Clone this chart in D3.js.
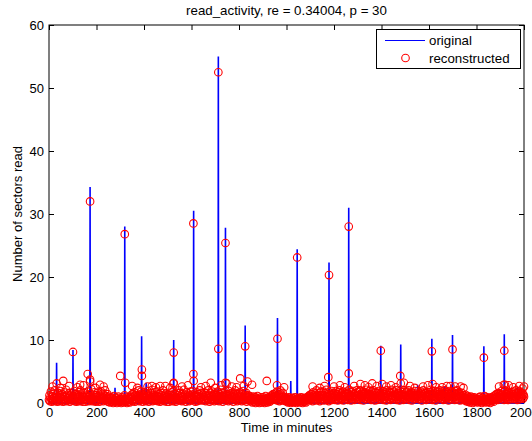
<!DOCTYPE html>
<html>
<head>
<meta charset="utf-8">
<script src="https://cdn.jsdelivr.net/npm/d3@7"></script>
<style>
  html, body { margin: 0; padding: 0; background: #fff; }
  svg { display: block; }
  text { font-family: "Liberation Sans", Arial, Helvetica, sans-serif; fill: #000; }
</style>
</head>
<body>
<div id="chart"></div>
<script>
// ---------------- DATA ----------------
const titleText = "read_activity, re = 0.34004, p = 30";
const xLabelText = "Time in minutes";
const yLabelText = "Number of sectors read";
const legendLabels = ["original", "reconstructed"];

const xTickLabels = [0, 200, 400, 600, 800, 1000, 1200, 1400, 1600, 1800, 2000];
const yTickLabels = [0, 10, 20, 30, 40, 50, 60];

// original signal: spikes (minute, value); the signal is ~0 elsewhere
const spikeMinute   = [32, 101, 173, 278, 319, 390, 409, 525, 609, 713, 743, 826, 962, 1018, 1045, 1179, 1262, 1354, 1397, 1481, 1552, 1612, 1667, 1699, 1831, 1917, 1973];
const spikeOriginal = [6.4, 8.4, 34.3, 2.4, 28.0, 10.6, 3.2, 10.0, 30.5, 55.0, 27.8, 12.3, 13.5, 3.5, 24.4, 22.3, 31.0, 2.1, 9.1, 9.3, 2.9, 10.2, 2.6, 10.8, 9.0, 10.9, 2.4];

// reconstructed: dense low-level values every 2 minutes (0, 2, ..., 2000), one row = 50 minutes
const reconBaseStep = 2;
const reconBase = [
  0.5,1.2,0.3,0.9,1.8,0.6,0.2,1.1,0.7,1.5,0.4,0.9,2.0,0.3,0.8,1.3,0.5,1.0,0.2,1.6,0.7,0.4,1.2,0.9,1.9,
  0.3,0.8,1.4,0.5,1.0,0.2,1.7,0.6,1.1,0.4,0.9,2.1,0.3,0.7,1.3,0.5,1.0,0.8,1.6,0.2,1.2,0.6,0.4,1.5,0.9,
  1.1,0.4,0.7,1.9,0.3,1.0,0.6,1.4,0.2,0.8,1.2,0.5,1.7,0.9,0.3,1.1,2.0,0.6,0.4,1.3,0.8,0.2,1.0,1.6,0.5,
  0.7,1.5,0.2,1.0,0.6,1.2,0.4,1.8,0.9,0.3,1.1,0.7,1.4,0.5,2.2,0.8,0.3,1.0,0.6,1.3,0.4,1.7,0.9,0.2,1.2,
  0.9,0.3,1.6,0.5,1.1,0.8,0.2,1.3,0.6,1.9,0.4,1.0,0.7,1.5,0.3,0.9,1.2,0.5,2.0,0.6,1.1,0.4,0.8,1.4,0.2,
  0.6,1.0,0.4,0.1,0.7,0.3,0.9,0.2,0.5,0.8,0.0,0.6,1.1,0.3,0.5,0.2,0.8,0.4,0.0,0.7,0.3,1.0,0.5,0.2,0.6,
  0.2,0.6,0.0,0.5,0.9,0.3,0.7,0.1,0.4,1.2,0.2,0.6,0.3,0.8,0.0,0.5,0.9,0.2,0.4,0.7,0.1,0.6,1.0,0.9,1.3,
  0.8,1.4,0.3,1.0,0.5,1.7,0.2,1.2,0.6,0.9,1.5,0.4,1.1,0.7,2.0,0.3,0.9,1.3,0.5,1.8,0.6,1.0,0.2,1.4,0.8,
  1.2,0.5,1.0,0.3,1.6,0.7,1.1,0.4,1.9,0.6,0.2,1.3,0.8,1.0,0.4,1.5,0.6,2.1,0.3,0.9,1.2,0.5,1.7,0.7,1.0,
  0.4,1.1,0.7,1.8,0.3,1.0,0.5,1.4,0.9,0.2,1.6,0.6,1.2,0.4,0.8,2.0,0.5,1.1,0.3,1.3,0.7,0.9,1.5,0.2,1.0,
  1.3,0.6,0.9,0.2,1.5,0.8,1.2,0.4,1.7,0.5,1.0,0.3,1.9,0.7,1.1,0.6,1.4,0.2,0.9,1.6,0.4,1.2,0.8,2.0,0.5,
  0.7,1.6,0.4,1.1,0.9,0.3,1.4,0.6,1.0,2.1,0.5,0.8,1.3,0.2,1.7,0.6,1.0,0.4,1.5,0.9,0.3,1.2,0.7,1.8,1.0,
  0.5,1.3,0.8,1.9,0.4,1.0,0.6,1.5,0.2,1.2,0.9,1.7,0.3,1.1,0.7,1.4,0.5,2.0,0.8,1.0,0.4,1.6,0.6,1.3,0.9,
  1.0,0.4,1.7,0.6,1.2,0.3,1.5,0.8,1.1,0.5,2.0,0.7,1.3,0.2,0.9,1.6,0.4,1.1,0.7,1.8,0.5,1.0,1.4,0.3,1.2,
  0.6,1.5,0.9,1.2,0.4,1.8,0.7,1.0,0.3,1.4,0.8,2.1,0.5,1.1,0.6,1.6,0.2,1.3,0.9,1.0,0.4,1.7,0.7,1.2,0.5,
  1.4,0.7,1.0,0.3,1.9,0.6,1.2,0.8,1.5,0.4,1.1,0.9,1.7,0.2,1.3,0.6,1.0,2.0,0.5,0.8,1.4,0.3,1.1,0.7,1.6,
  0.8,1.2,0.5,1.7,0.9,1.0,0.3,1.4,0.6,1.9,0.4,1.1,0.7,1.3,0.5,1.6,0.2,1.0,0.8,1.2,0.4,0.9,0.6,1.1,0.5,
  0.3,0.8,0.5,0.1,0.7,0.4,1.0,0.2,0.6,0.9,0.0,0.5,0.8,0.3,1.1,0.2,0.6,0.4,0.0,0.7,0.3,0.9,0.5,0.1,0.6,
  0.4,0.9,0.2,0.7,0.0,0.5,1.1,0.3,0.6,0.8,0.1,0.5,0.3,0.9,0.6,0.2,1.0,0.4,0.7,1.2,0.5,0.9,1.4,0.6,1.1,
  0.9,1.5,0.5,1.2,0.8,1.8,0.4,1.0,0.6,1.4,0.3,1.1,2.0,0.7,1.3,0.5,0.9,1.6,0.4,1.0,0.7,0.5,0.9,0.3,0.6,
  0.8,0.3,0.6,0.1,0.5,0.9,0.2,0.7,0.4,0.0,0.6,0.3,0.8,0.2,0.5,0.1,0.7,0.4,0.9,0.2,0.6,0.0,0.5,0.3,0.7,
  0.4,0.8,0.2,0.6,0.1,0.5,0.9,0.3,0.7,0.0,0.4,0.6,0.2,0.8,0.3,0.5,0.1,0.7,0.4,0.9,0.6,1.0,0.5,1.2,0.8,
  1.1,0.5,1.4,0.8,1.0,0.3,1.7,0.6,1.2,0.9,1.5,0.4,1.0,2.0,0.7,1.3,0.5,1.1,0.8,1.6,0.3,1.2,0.9,1.8,0.6,
  1.3,0.7,1.0,1.8,0.4,1.2,0.6,1.5,0.9,2.1,0.5,1.1,0.8,1.4,0.3,1.7,1.0,0.6,1.3,0.9,1.9,0.5,1.2,0.7,1.5,
  0.9,1.6,0.5,1.2,1.9,0.7,1.0,1.4,0.4,1.7,1.1,0.6,2.0,0.8,1.3,0.5,1.5,1.0,0.7,1.8,0.4,1.2,0.9,1.6,1.1,
  1.4,0.6,1.8,1.0,0.5,1.5,0.8,2.1,1.2,0.7,1.3,0.4,1.7,1.0,0.6,1.9,0.9,1.4,0.5,1.1,1.6,0.8,1.2,2.0,0.7,
  1.0,1.7,0.6,1.3,0.9,2.0,0.5,1.2,1.5,0.8,1.1,1.8,0.4,1.4,0.9,1.6,0.7,1.2,2.1,0.6,1.0,1.5,0.8,1.3,1.9,
  0.7,1.4,1.1,0.5,1.8,1.0,1.3,0.6,2.0,0.9,1.5,0.4,1.2,1.7,0.8,1.1,0.5,1.6,1.0,1.9,0.7,1.3,0.6,1.4,1.0,
  1.6,0.8,1.2,1.9,0.5,1.4,1.0,0.7,1.7,1.1,0.4,1.5,2.0,0.9,1.2,0.6,1.8,1.0,1.3,0.5,1.6,0.8,2.1,1.1,0.7,
  1.2,1.8,0.6,1.0,1.5,0.9,2.0,0.5,1.3,1.1,0.7,1.6,1.0,0.4,1.9,1.2,0.8,1.4,0.6,1.7,1.0,0.5,1.3,1.8,0.9,
  1.5,0.7,1.1,1.8,0.6,1.3,0.9,2.0,1.0,0.5,1.4,1.2,0.8,1.7,0.4,1.1,1.6,0.9,1.3,0.6,1.9,1.0,0.7,1.5,1.2,
  0.8,1.3,1.9,0.6,1.0,1.5,0.7,1.2,1.8,0.9,0.4,1.4,1.1,2.0,0.6,1.3,0.8,1.6,1.0,0.5,1.7,1.2,0.9,1.4,0.7,
  1.1,1.7,0.6,1.3,2.1,0.9,1.4,0.5,1.0,1.6,1.2,0.7,1.9,1.0,0.4,1.5,0.8,1.3,1.8,0.6,1.1,1.4,0.9,2.0,1.2,
  0.9,1.4,1.8,0.7,1.2,0.5,1.6,1.0,2.0,0.8,1.3,1.1,0.6,1.7,0.9,1.4,0.4,1.2,1.9,1.0,0.7,1.5,1.1,0.6,1.8,
  1.3,0.8,1.6,1.1,0.5,1.9,1.0,1.4,0.7,2.0,1.2,0.6,1.5,0.9,1.7,0.4,1.1,1.3,0.8,1.6,0.5,1.0,0.7,1.2,0.6,
  0.9,0.5,1.3,0.3,0.8,0.6,1.1,0.2,0.7,0.4,0.9,0.1,0.6,1.0,0.3,0.5,0.8,0.0,0.6,0.4,0.9,0.2,0.7,0.3,0.5,
  0.3,0.7,0.1,0.6,0.4,0.9,0.2,0.5,1.0,0.3,0.7,0.0,0.5,0.8,0.2,0.6,0.4,1.1,0.3,0.7,0.1,0.5,0.9,0.2,0.6,
  0.4,0.8,0.2,0.6,0.0,0.5,0.9,0.3,0.7,0.4,1.0,0.2,0.6,0.8,1.2,0.5,0.9,1.4,0.7,1.1,0.5,1.6,0.8,1.3,1.0,
  1.5,0.8,1.2,1.9,0.6,1.3,1.0,1.7,0.5,1.1,2.0,0.8,1.4,0.7,1.6,1.0,0.5,1.8,1.2,0.9,1.5,0.6,1.3,1.0,1.7,
  0.9,1.4,0.6,1.8,1.1,0.7,1.5,1.0,2.0,0.8,1.3,0.5,1.6,1.2,0.9,1.9,0.6,1.4,1.0,1.7,0.8,1.2,1.5,0.7,1.3,
  1.0
];

// reconstructed: individual higher values (minute, value)
const reconExtraMinute = [32, 60, 101, 131, 163, 173, 173, 173, 215, 300, 319, 321, 391, 391, 433, 468, 524, 525, 525, 608, 608, 609, 681, 713, 713, 743, 743, 748, 805, 826, 836, 855, 917, 962, 1045, 1176, 1179, 1262, 1262, 1311, 1361, 1397, 1403, 1479, 1481, 1494, 1612, 1615, 1655, 1690, 1699, 1733, 1831, 1915, 1917, 1920, 1994, 2000,
  15, 48, 85, 120, 145, 195, 230, 350, 372, 415, 450, 490, 510, 560, 585, 640, 660, 700, 725, 770, 790, 820, 960, 990, 1110, 1140, 1160, 1200, 1225, 1245, 1285, 1330, 1345, 1380, 1420, 1440, 1460, 1520, 1540, 1575, 1595, 1630, 1675, 1710, 1745, 1895, 1935, 1955, 1980];
const reconExtraValue  = [3.1, 3.5, 8.1, 2.9, 4.6, 32.0, 3.7, 3.4, 2.9, 4.3, 26.8, 3.2, 5.3, 4.3, 2.7, 2.7, 3.1, 8.0, 3.2, 28.5, 4.6, 3.5, 3.2, 52.5, 8.6, 25.4, 3.2, 3.1, 3.9, 9.0, 3.4, 2.9, 3.5, 10.2, 23.1, 4.1, 20.3, 28.0, 4.7, 3.0, 3.1, 8.3, 3.0, 4.3, 3.1, 3.2, 8.2, 3.0, 2.5, 2.7, 8.5, 2.6, 7.2, 2.9, 8.3, 2.9, 2.3, 2.6,
  2.6, 2.4, 2.7, 2.5, 2.8, 2.4, 2.6, 2.7, 2.4, 2.6, 2.5, 2.7, 2.4, 2.6, 2.8, 2.5, 2.7, 2.4, 2.8, 2.6, 2.5, 2.7, 2.8, 2.5, 2.6, 2.4, 2.7, 2.6, 2.8, 2.5, 2.7, 2.8, 2.5, 2.7, 2.6, 2.8, 2.5, 2.7, 2.4, 2.6, 2.8, 2.5, 2.7, 2.6, 2.4, 2.6, 2.8, 2.5, 2.7];

// ---------------- CHART ----------------
const W = 532, H = 441;
const plot = { left: 49, right: 524, top: 25, bottom: 403 };
const blue = "#0000ff", red = "#ff0000";

const x = d3.scaleLinear().domain([0, 2000]).range([plot.left, plot.right]);
const y = d3.scaleLinear().domain([0, 60]).range([plot.bottom, plot.top]);

const svg = d3.select("#chart").append("svg")
  .attr("width", W).attr("height", H)
  .attr("viewBox", `0 0 ${W} ${H}`);

svg.append("rect").attr("width", W).attr("height", H).attr("fill", "#fff");

// axes (drawn beneath data, like MATLAB)
const fontSize = 13;
const axB = d3.axisBottom(x).tickValues(xTickLabels).tickSizeInner(-5).tickSizeOuter(0).tickPadding(5).tickFormat(d3.format("d"));
const axT = d3.axisTop(x).tickValues(xTickLabels).tickSizeInner(-5).tickSizeOuter(0).tickFormat("");
const axL = d3.axisLeft(y).tickValues(yTickLabels).tickSizeInner(-5).tickSizeOuter(0).tickPadding(5).tickFormat(d3.format("d"));
const axR = d3.axisRight(y).tickValues(yTickLabels).tickSizeInner(-5).tickSizeOuter(0).tickFormat("");

function styleAxis(g) {
  g.select(".domain").remove();
  g.selectAll(".tick line").attr("stroke", "#000").attr("stroke-width", 1);
  g.selectAll(".tick text").attr("font-size", fontSize).attr("fill", "#000")
    .style("font-family", '"Liberation Sans", Arial, Helvetica, sans-serif');
  g.attr("font-family", null).attr("font-size", null);
}
svg.append("g").attr("transform", `translate(0,${plot.bottom})`).call(axB).call(styleAxis);
svg.append("g").attr("transform", `translate(0,${plot.top})`).call(axT).call(styleAxis);
svg.append("g").attr("transform", `translate(${plot.left},0)`).call(axL).call(styleAxis);
svg.append("g").attr("transform", `translate(${plot.right},0)`).call(axR).call(styleAxis);

svg.append("rect")
  .attr("x", plot.left).attr("y", plot.top)
  .attr("width", plot.right - plot.left).attr("height", plot.bottom - plot.top)
  .attr("fill", "none").attr("stroke", "#000").attr("stroke-width", 1);

// original series as a line: zero baseline with spikes
const original = [{ t: 0, v: 0 }];
spikeMinute.forEach((t, i) => {
  original.push({ t: t - 1, v: 0 }, { t: t, v: spikeOriginal[i] }, { t: t + 1, v: 0 });
});
original.push({ t: 2000, v: 0 });
original.sort((a, b) => a.t - b.t);

svg.append("path")
  .datum(original)
  .attr("fill", "none")
  .attr("stroke", blue)
  .attr("stroke-width", 1.6)
  .attr("d", d3.line().x(d => x(d.t)).y(d => y(d.v)));

// reconstructed circles
const recon = reconBase.map((v, i) => ({ t: i * reconBaseStep, v }))
  .concat(reconExtraMinute.map((t, i) => ({ t, v: reconExtraValue[i] })));

svg.append("g").selectAll("circle")
  .data(recon)
  .join("circle")
  .attr("cx", d => x(d.t))
  .attr("cy", d => y(d.v))
  .attr("r", 3.8)
  .attr("fill", "none")
  .attr("stroke", red)
  .attr("stroke-width", 1.1);

// title and labels
svg.append("text")
  .attr("x", (plot.left + plot.right) / 2).attr("y", 15)
  .attr("text-anchor", "middle").attr("font-size", 13.3)
  .text(titleText);

svg.append("text")
  .attr("x", (plot.left + plot.right) / 2).attr("y", 432)
  .attr("text-anchor", "middle").attr("font-size", fontSize)
  .text(xLabelText);

svg.append("text")
  .attr("transform", `translate(22,${(plot.top + plot.bottom) / 2}) rotate(-90)`)
  .attr("text-anchor", "middle").attr("font-size", fontSize)
  .text(yLabelText);

// legend
const lg = svg.append("g");
lg.append("rect")
  .attr("x", 376.5).attr("y", 29.5).attr("width", 144).attr("height", 39)
  .attr("fill", "#fff").attr("stroke", "#000").attr("stroke-width", 1);
lg.append("line")
  .attr("x1", 385).attr("x2", 425).attr("y1", 40.5).attr("y2", 40.5)
  .attr("stroke", blue).attr("stroke-width", 1);
lg.append("text").attr("x", 429).attr("y", 45).attr("font-size", 13.3).text(legendLabels[0]);
lg.append("circle").attr("cx", 405.5).attr("cy", 58).attr("r", 3.8)
  .attr("fill", "none").attr("stroke", red).attr("stroke-width", 1.1);
lg.append("text").attr("x", 429).attr("y", 62.5).attr("font-size", 13.3).text(legendLabels[1]);
</script>
</body>
</html>
